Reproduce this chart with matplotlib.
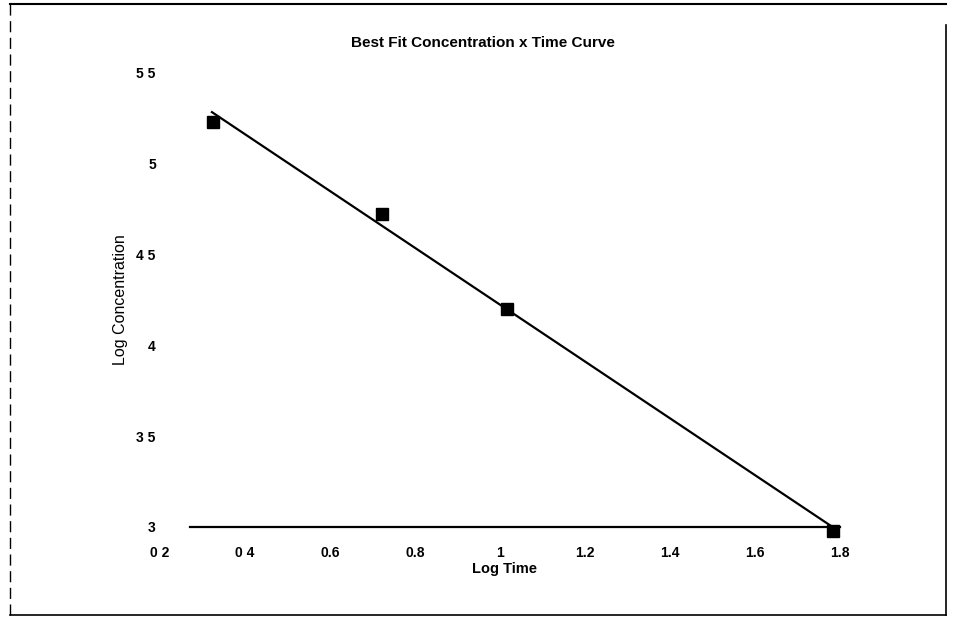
import numpy as np
import matplotlib
matplotlib.use("Agg")
import matplotlib.pyplot as plt
from matplotlib.lines import Line2D

# ---- data ----
log_time = [0.325, 0.723, 1.016, 1.783]
log_conc = [5.23, 4.725, 4.20, 2.98]
fit_range = [0.32, 1.783]
x_ticks = [0.2, 0.4, 0.6, 0.8, 1.0, 1.2, 1.4, 1.6, 1.8]
x_tick_labels = ["0 2", "0 4", "0.6", "0.8", "1", "1.2", "1.4", "1.6", "1.8"]
y_ticks = [3.0, 3.5, 4.0, 4.5, 5.0, 5.5]
y_tick_labels = ["3", "3 5", "4", "4 5", "5", "5 5"]
title = "Best Fit Concentration x Time Curve"
x_label = "Log Time"
y_label = "Log Concentration"

plt.rcParams['font.family'] = ['Liberation Sans', 'DejaVu Sans']

fig = plt.figure(figsize=(9.56, 6.35), dpi=100)
ax = fig.add_axes([0.1674, 0.1701, 0.7202, 0.715])

slope, intercept = np.polyfit(log_time, log_conc, 1)
fx = np.array(fit_range)
ax.plot(fx, slope * fx + intercept, color='black', lw=1.6, solid_capstyle='butt')
ax.plot(log_time, log_conc, 's', color='black', ms=8, clip_on=False)

ax.set_xlim(0.2, 1.82)
ax.set_ylim(3.0, 5.5)
ax.set_xticks(x_ticks)
ax.set_xticklabels(x_tick_labels, fontsize=10, fontweight='bold')
ax.set_yticks(y_ticks)
ax.set_yticklabels(y_tick_labels, fontsize=10, fontweight='bold')
ax.tick_params(axis='both', length=0)
ax.tick_params(axis='x', pad=14)
ax.tick_params(axis='y', pad=3)
for s in ['top', 'right', 'left']:
    ax.spines[s].set_visible(False)
ax.spines['bottom'].set_linewidth(1.6)
ax.spines['bottom'].set_bounds(0.27, 1.80)

ax.set_title(title, fontsize=11, fontweight='bold', pad=19, x=0.469)
ax.set_xlabel(x_label, fontsize=10.5, fontweight='bold', labelpad=1)
ax.set_ylabel(y_label, fontsize=11.5, labelpad=6)

# outer frame of the scanned page
W, H = 956, 635
def fx_(p): return p / W
def fy_(p): return 1 - p / H
fig.add_artist(Line2D([fx_(10), fx_(946)], [fy_(4), fy_(4)], color='black', lw=1.5))
fig.add_artist(Line2D([fx_(946), fx_(946)], [fy_(25), fy_(615)], color='black', lw=1.2))
fig.add_artist(Line2D([fx_(10), fx_(946)], [fy_(615), fy_(615)], color='black', lw=1.2))
fig.add_artist(Line2D([fx_(10), fx_(10)], [fy_(4), fy_(615)], color='black', lw=1.0,
                      linestyle=(0, (8, 4))))

fig.savefig("out.png", dpi=100)
